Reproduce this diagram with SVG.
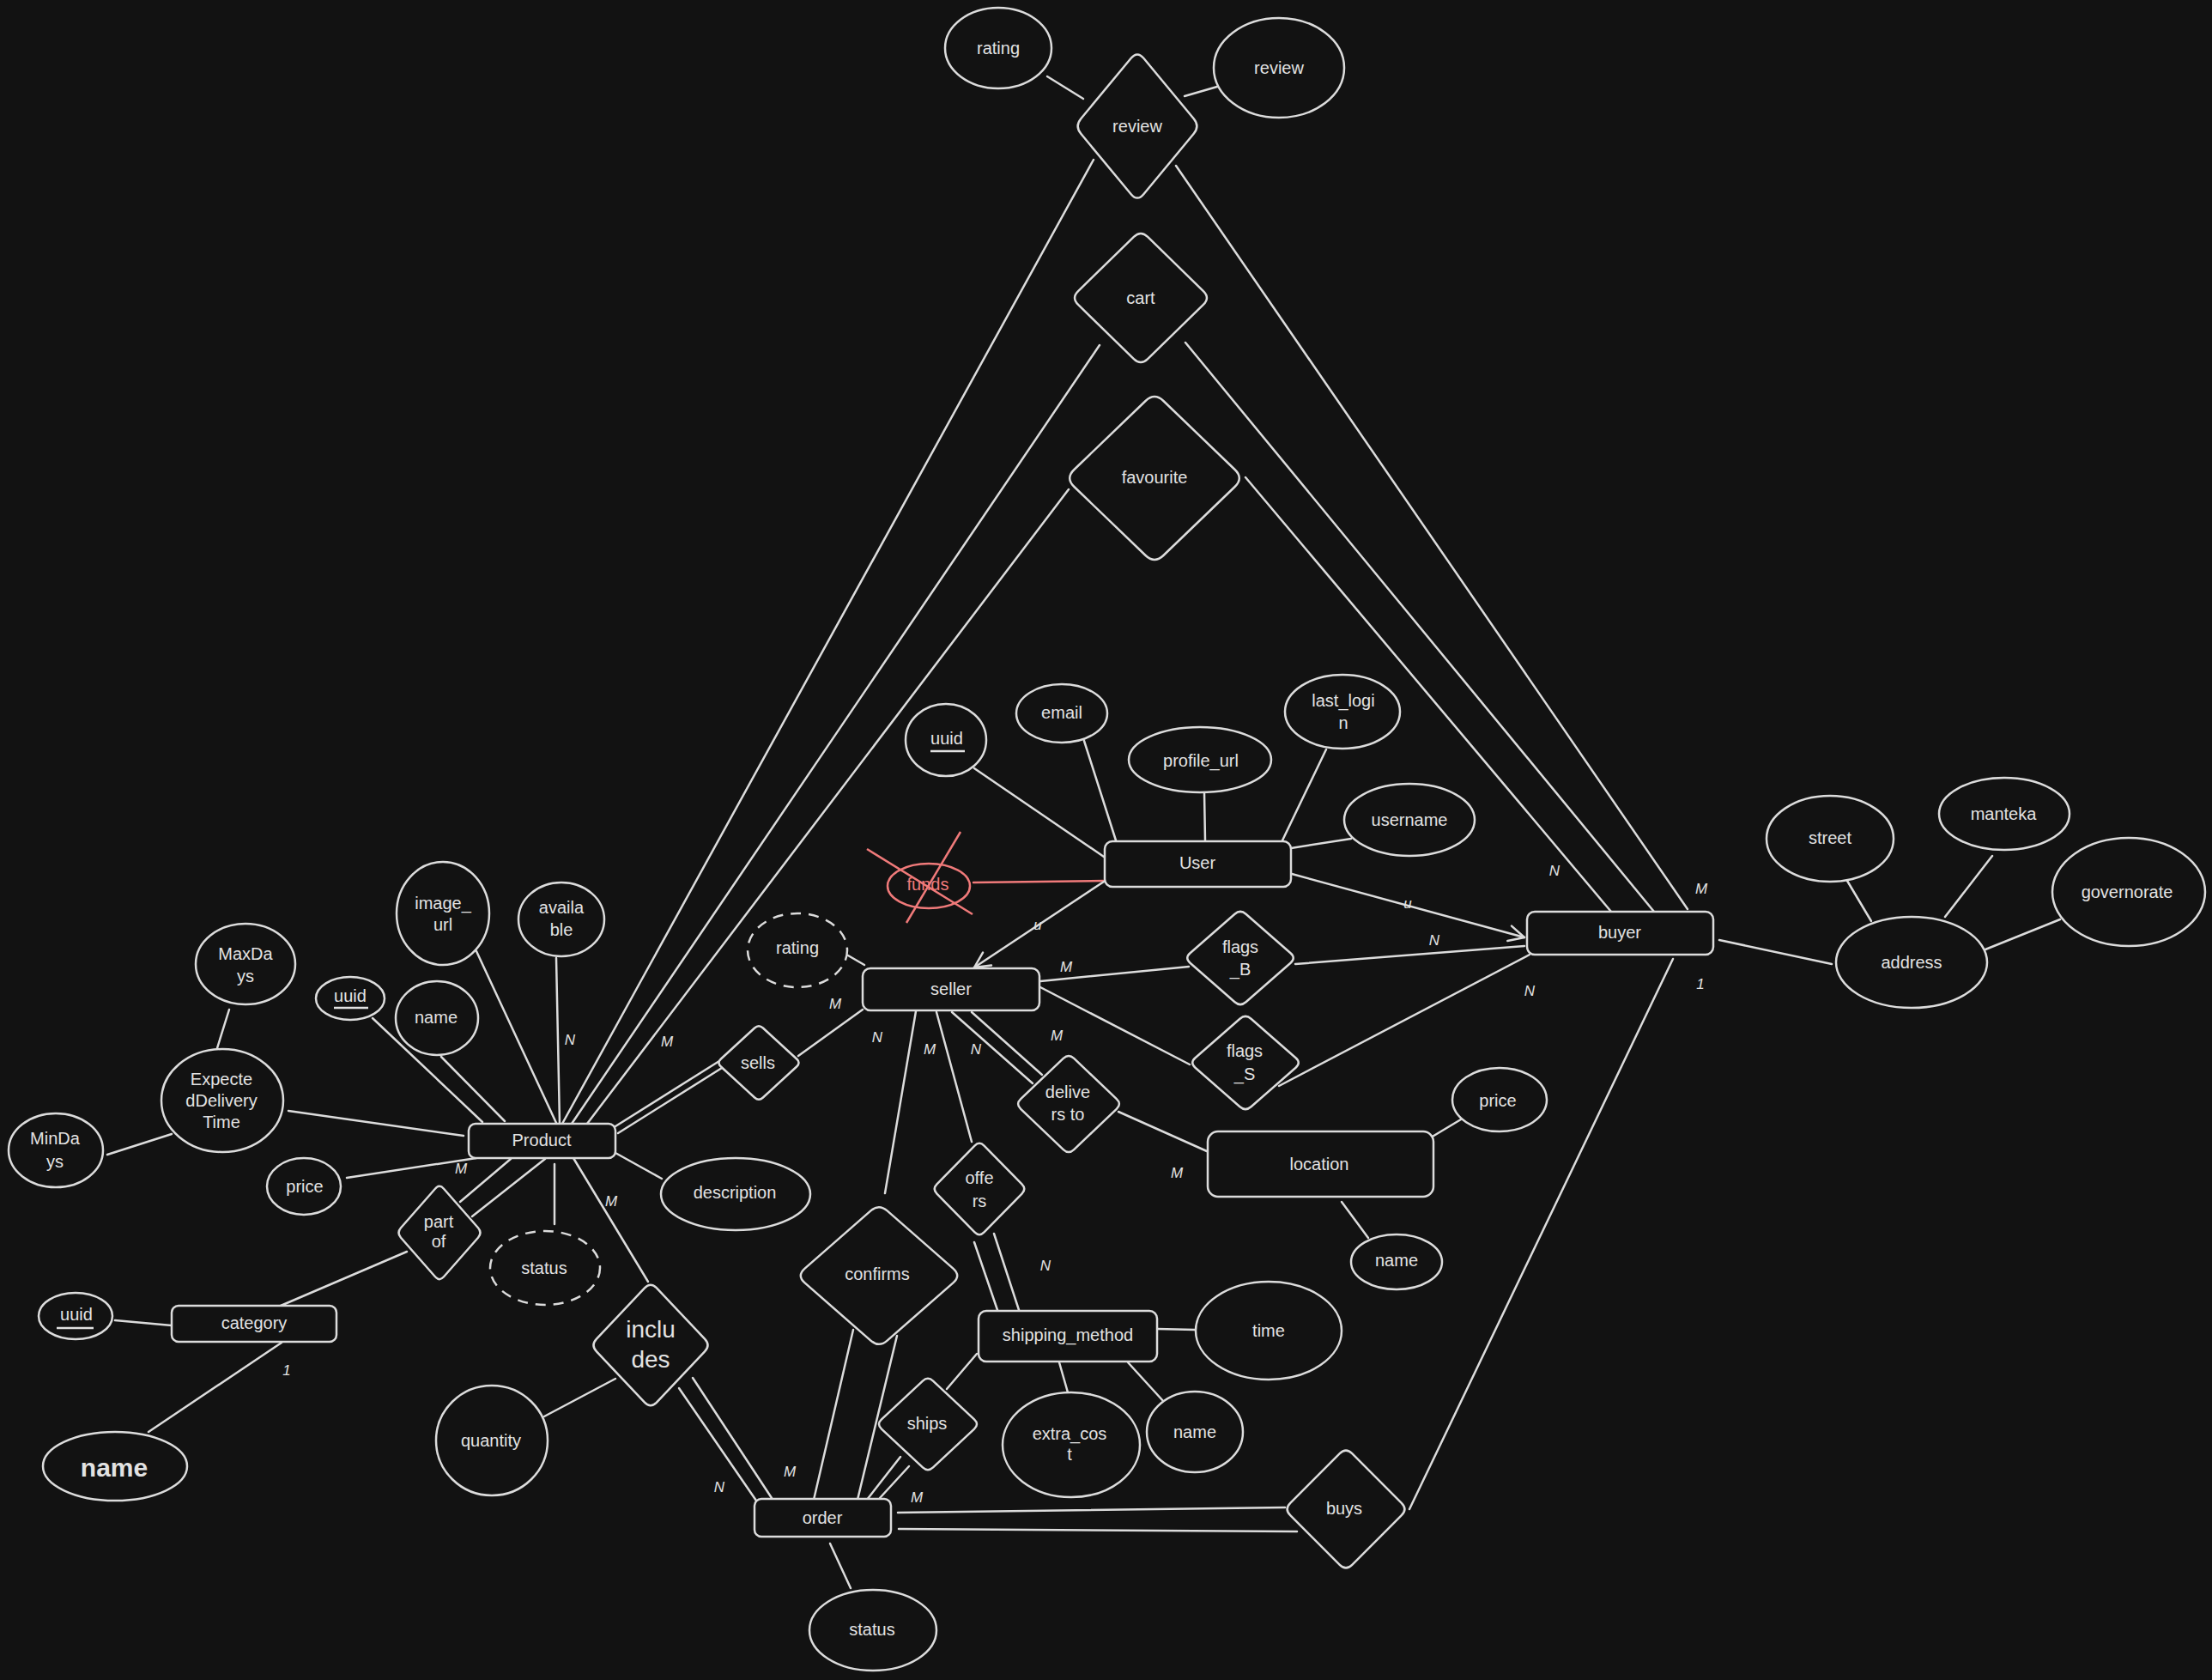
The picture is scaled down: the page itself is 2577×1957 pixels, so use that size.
<svg xmlns="http://www.w3.org/2000/svg" width="2577" height="1957" viewBox="0 0 2577 1957">
<defs>
<style>
.n ellipse, .n rect, .sh {fill:#121212; stroke:#dcdcdc; stroke-width:2.5;}
.dash {stroke-dasharray:12 9;}
text {font-family:"Liberation Sans", Arial, sans-serif; font-size:20px; fill:#e2e2e2; text-anchor:middle; dominant-baseline:central;}
.lab {font-size:17px; font-style:italic;}
.big {font-size:28px;}
.huge {font-size:30px; font-weight:bold;}
#connectors line {stroke:#dcdcdc; stroke-width:2.5; fill:none; stroke-linecap:round;}
#connectors line.red, .redx line {stroke:#f07a7a; stroke-width:2.5;}
.ul {stroke:#e2e2e2; stroke-width:2.5;}
</style>
<path id="dia" d="M0.1,-0.9 L0.9,-0.1 Q1,0 0.9,0.1 L0.1,0.9 Q0,1 -0.1,0.9 L-0.9,0.1 Q-1,0 -0.9,-0.1 L-0.1,-0.9 Q0,-1 0.1,-0.9 Z" vector-effect="non-scaling-stroke"/>
<marker id="arr" viewBox="0 0 24 24" refX="21" refY="12" markerWidth="24" markerHeight="24" markerUnits="userSpaceOnUse" orient="auto"><path d="M3,3 L21,12 L3,21" fill="none" stroke="#dcdcdc" stroke-width="2.5" stroke-linecap="round" stroke-linejoin="round"/></marker>
</defs>
<rect width="2577" height="1957" fill="#121212"/>

<g id="connectors">
<line x1="1220" y1="89" x2="1262" y2="115"/>
<line x1="1380" y1="112" x2="1418" y2="101"/>
<line x1="1274" y1="186" x2="655" y2="1309"/>
<line x1="1370" y1="193" x2="1966" y2="1059"/>
<line x1="1281" y1="402" x2="666" y2="1309"/>
<line x1="1381" y1="399" x2="1927" y2="1062"/>
<line x1="1245" y1="570" x2="684" y2="1309"/>
<line x1="1451" y1="556" x2="1877" y2="1062"/>
<line x1="1135" y1="895" x2="1286" y2="998"/>
<line x1="1263" y1="863" x2="1300" y2="979"/>
<line x1="1403" y1="923" x2="1404" y2="979"/>
<line x1="1545" y1="873" x2="1494" y2="979"/>
<line x1="1574" y1="977" x2="1504" y2="988"/>
<line class="red" x1="1134" y1="1028" x2="1286" y2="1026"/>
<line x1="1286" y1="1027" x2="1135" y2="1127" marker-end="url(#arr)"/>
<line x1="1505" y1="1018" x2="1776" y2="1092" marker-end="url(#arr)"/>
<line x1="1212" y1="1143" x2="1385" y2="1126"/>
<line x1="1509" y1="1123" x2="1776" y2="1102"/>
<line x1="1212" y1="1150" x2="1386" y2="1240"/>
<line x1="1490" y1="1265" x2="1782" y2="1112"/>
<line x1="988" y1="1113" x2="1007" y2="1124"/>
<line x1="930" y1="1230" x2="1005" y2="1176"/>
<line x1="838" y1="1236" x2="717" y2="1312"/>
<line x1="841" y1="1244" x2="720" y2="1320"/>
<line x1="1067" y1="1178" x2="1031" y2="1390"/>
<line x1="1091" y1="1179" x2="1132" y2="1330"/>
<line x1="1109" y1="1179" x2="1203" y2="1262"/>
<line x1="1132" y1="1179" x2="1214" y2="1252"/>
<line x1="1303" y1="1295" x2="1406" y2="1341"/>
<line x1="1667" y1="1325" x2="1702" y2="1304"/>
<line x1="1563" y1="1400" x2="1594" y2="1442"/>
<line x1="1135" y1="1447" x2="1162" y2="1526"/>
<line x1="1158" y1="1437" x2="1187" y2="1526"/>
<line x1="1348" y1="1548" x2="1392" y2="1549"/>
<line x1="1234" y1="1587" x2="1244" y2="1622"/>
<line x1="1314" y1="1587" x2="1356" y2="1633"/>
<line x1="1103" y1="1618" x2="1138" y2="1577"/>
<line x1="1049" y1="1697" x2="1010" y2="1747"/>
<line x1="1059" y1="1708" x2="1025" y2="1745"/>
<line x1="994" y1="1549" x2="948" y2="1747"/>
<line x1="1045" y1="1556" x2="999" y2="1747"/>
<line x1="791" y1="1617" x2="881" y2="1748"/>
<line x1="807" y1="1605" x2="899" y2="1745"/>
<line x1="1046" y1="1762" x2="1497" y2="1756"/>
<line x1="1047" y1="1781" x2="1511" y2="1784"/>
<line x1="967" y1="1798" x2="991" y2="1850"/>
<line x1="1949" y1="1117" x2="1642" y2="1758"/>
<line x1="2003" y1="1095" x2="2134" y2="1123"/>
<line x1="2152" y1="1026" x2="2180" y2="1073"/>
<line x1="2321" y1="997" x2="2266" y2="1068"/>
<line x1="2400" y1="1071" x2="2313" y2="1106"/>
<line x1="267" y1="1176" x2="253" y2="1221"/>
<line x1="125" y1="1345" x2="200" y2="1321"/>
<line x1="336" y1="1294" x2="540" y2="1323"/>
<line x1="434" y1="1186" x2="562" y2="1307"/>
<line x1="514" y1="1231" x2="588" y2="1306"/>
<line x1="555" y1="1108" x2="648" y2="1308"/>
<line x1="648" y1="1116" x2="652" y2="1308"/>
<line x1="404" y1="1372" x2="555" y2="1349"/>
<line x1="717" y1="1343" x2="771" y2="1373"/>
<line x1="646" y1="1356" x2="646" y2="1426"/>
<line x1="595" y1="1350" x2="536" y2="1400"/>
<line x1="635" y1="1350" x2="550" y2="1417"/>
<line x1="474" y1="1458" x2="327" y2="1521"/>
<line x1="668" y1="1349" x2="755" y2="1493"/>
<line x1="717" y1="1606" x2="634" y2="1650"/>
<line x1="134" y1="1538" x2="200" y2="1544"/>
<line x1="328" y1="1564" x2="173" y2="1668"/>
<g class="lab-g">
<text class="lab" x="1811" y="1014">N</text>
<text class="lab" x="1982" y="1035">M</text>
<text class="lab" x="1640" y="1052">u</text>
<text class="lab" x="1671" y="1095">N</text>
<text class="lab" x="1782" y="1154">N</text>
<text class="lab" x="1981" y="1146">1</text>
<text class="lab" x="1209" y="1077">u</text>
<text class="lab" x="1242" y="1126">M</text>
<text class="lab" x="973" y="1169">M</text>
<text class="lab" x="1022" y="1208">N</text>
<text class="lab" x="1083" y="1222">M</text>
<text class="lab" x="1137" y="1222">N</text>
<text class="lab" x="1231" y="1206">M</text>
<text class="lab" x="1371" y="1366">M</text>
<text class="lab" x="1218" y="1474">N</text>
<text class="lab" x="777" y="1213">M</text>
<text class="lab" x="664" y="1211">N</text>
<text class="lab" x="537" y="1361">M</text>
<text class="lab" x="712" y="1399">M</text>
<text class="lab" x="334" y="1596">1</text>
<text class="lab" x="838" y="1732">N</text>
<text class="lab" x="920" y="1714">M</text>
<text class="lab" x="1068" y="1744">M</text>
</g>
</g>

<g id="review" class="n"><use href="#dia" class="sh" transform="translate(1325,147) scale(73,88)"/><text x="1325" y="147">review</text></g>
<g id="review-rating" class="n"><ellipse cx="1163" cy="56" rx="62" ry="47"/><text x="1163" y="56">rating</text></g>
<g id="review-text" class="n"><ellipse cx="1490" cy="79" rx="76" ry="58"/><text x="1490" y="79">review</text></g>
<g id="cart" class="n"><use href="#dia" class="sh" transform="translate(1329,347) scale(81,79)"/><text x="1329" y="347">cart</text></g>
<g id="favourite" class="n"><use href="#dia" class="sh" transform="translate(1345,557) scale(104,100)"/><text x="1345" y="556">favourite</text></g>

<g id="user" class="n"><rect x="1287" y="980" width="217" height="53" rx="9"/><text x="1395" y="1005">User</text></g>
<g id="user-uuid" class="n"><ellipse cx="1102" cy="862" rx="47" ry="42"/><text x="1103" y="860">uuid</text><line class="ul" x1="1084" y1="875" x2="1124" y2="875"/></g>
<g id="user-email" class="n"><ellipse cx="1237" cy="831" rx="53" ry="34"/><text x="1237" y="830">email</text></g>
<g id="user-profile" class="n"><ellipse cx="1398" cy="885" rx="83" ry="38"/><text x="1399" y="886">profile_url</text></g>
<g id="user-lastlogin" class="n"><ellipse cx="1564" cy="829" rx="67" ry="43"/><text x="1565" y="816">last_logi</text><text x="1565" y="842">n</text></g>
<g id="user-username" class="n"><ellipse cx="1642" cy="955" rx="76" ry="42"/><text x="1642" y="955">username</text></g>
<g id="user-funds" class="n"><ellipse cx="1082" cy="1032" rx="48" ry="26" style="stroke:#f07a7a"/><text x="1081" y="1030" style="fill:#f07a7a">funds</text>
<g class="redx"><line x1="1010" y1="989" x2="1133" y2="1065"/><line x1="1119" y1="969" x2="1056" y2="1075"/></g></g>

<g id="seller" class="n"><rect x="1005" y="1128" width="206" height="49" rx="9"/><text x="1108" y="1152">seller</text></g>
<g id="seller-rating" class="n"><ellipse class="dash" cx="929" cy="1107" rx="58" ry="43"/><text x="929" y="1104">rating</text></g>
<g id="buyer" class="n"><rect x="1779" y="1062" width="217" height="50" rx="9"/><text x="1887" y="1086">buyer</text></g>
<g id="flags-b" class="n"><use href="#dia" class="sh" transform="translate(1445,1116) scale(65,57)"/><text x="1445" y="1103">flags</text><text x="1445" y="1129">_B</text></g>
<g id="flags-s" class="n"><use href="#dia" class="sh" transform="translate(1451,1238) scale(65,57)"/><text x="1450" y="1224">flags</text><text x="1450" y="1251">_S</text></g>

<g id="address" class="n"><ellipse cx="2227" cy="1121" rx="88" ry="53"/><text x="2227" y="1121">address</text></g>
<g id="street" class="n"><ellipse cx="2132" cy="977" rx="74" ry="50"/><text x="2132" y="976">street</text></g>
<g id="manteka" class="n"><ellipse cx="2335" cy="948" rx="76" ry="42"/><text x="2334" y="948">manteka</text></g>
<g id="governorate" class="n"><ellipse cx="2480" cy="1039" rx="89" ry="63"/><text x="2478" y="1039">governorate</text></g>

<g id="product" class="n"><rect x="546" y="1309" width="171" height="40" rx="8"/><text x="631" y="1328">Product</text></g>
<g id="product-maxdays" class="n"><ellipse cx="286" cy="1123" rx="58" ry="47"/><text x="286" y="1111">MaxDa</text><text x="286" y="1137">ys</text></g>
<g id="product-edt" class="n"><ellipse cx="259" cy="1282" rx="71" ry="60"/><text x="258" y="1257">Expecte</text><text x="258" y="1282">dDelivery</text><text x="258" y="1307">Time</text></g>
<g id="product-mindays" class="n"><ellipse cx="65" cy="1340" rx="55" ry="43"/><text x="64" y="1326">MinDa</text><text x="64" y="1353">ys</text></g>
<g id="product-uuid" class="n"><ellipse cx="408" cy="1163" rx="40" ry="25"/><text x="408" y="1160">uuid</text><line class="ul" x1="389" y1="1174" x2="429" y2="1174"/></g>
<g id="product-name" class="n"><ellipse cx="509" cy="1186" rx="48" ry="43"/><text x="508" y="1185">name</text></g>
<g id="product-image" class="n"><ellipse cx="516" cy="1064" rx="54" ry="60"/><text x="516" y="1052">image_</text><text x="516" y="1077">url</text></g>
<g id="product-available" class="n"><ellipse cx="654" cy="1071" rx="50" ry="43"/><text x="654" y="1057">availa</text><text x="654" y="1083">ble</text></g>
<g id="product-price" class="n"><ellipse cx="354" cy="1382" rx="43" ry="33"/><text x="355" y="1382">price</text></g>
<g id="product-description" class="n"><ellipse cx="857" cy="1391" rx="87" ry="42"/><text x="856" y="1389">description</text></g>
<g id="product-status" class="n"><ellipse class="dash" cx="635" cy="1477" rx="64" ry="43"/><text x="634" y="1477">status</text></g>
<g id="sells" class="n"><use href="#dia" class="sh" transform="translate(884,1238) scale(49,45)"/><text x="883" y="1238">sells</text></g>
<g id="part-of" class="n"><use href="#dia" class="sh" transform="translate(512,1436) scale(50,57)"/><text x="511" y="1423">part</text><text x="511" y="1446">of</text></g>

<g id="category" class="n"><rect x="200" y="1521" width="192" height="42" rx="8"/><text x="296" y="1541">category</text></g>
<g id="category-uuid" class="n"><ellipse cx="88" cy="1533" rx="43" ry="27"/><text x="89" y="1531">uuid</text><line class="ul" x1="66" y1="1547" x2="109" y2="1547"/></g>
<g id="category-name" class="n"><ellipse cx="134" cy="1708" rx="84" ry="40"/><text class="huge" x="133" y="1709">name</text></g>

<g id="includes" class="n"><use href="#dia" class="sh" transform="translate(758,1567) scale(70,74)"/><text class="big" x="758" y="1548">inclu</text><text class="big" x="758" y="1583">des</text></g>
<g id="includes-quantity" class="n"><ellipse cx="573" cy="1678" rx="65" ry="64"/><text x="572" y="1678">quantity</text></g>

<g id="confirms" class="n"><use href="#dia" class="sh" transform="translate(1024,1486) scale(96,84)"/><text x="1022" y="1484">confirms</text></g>
<g id="offers" class="n"><use href="#dia" class="sh" transform="translate(1141,1385) scale(55,56)"/><text x="1141" y="1372">offe</text><text x="1141" y="1399">rs</text></g>
<g id="delivers-to" class="n"><use href="#dia" class="sh" transform="translate(1245,1286) scale(62,59)"/><text x="1244" y="1272">delive</text><text x="1244" y="1298">rs to</text></g>
<g id="location" class="n"><rect x="1407" y="1318" width="263" height="76" rx="12"/><text x="1537" y="1356">location</text></g>
<g id="location-price" class="n"><ellipse cx="1747" cy="1281" rx="55" ry="37"/><text x="1745" y="1282">price</text></g>
<g id="location-name" class="n"><ellipse cx="1627" cy="1470" rx="53" ry="32"/><text x="1627" y="1468">name</text></g>

<g id="shipping-method" class="n"><rect x="1140" y="1527" width="208" height="59" rx="9"/><text x="1244" y="1555">shipping_method</text></g>
<g id="shipping-time" class="n"><ellipse cx="1478" cy="1550" rx="85" ry="57"/><text x="1478" y="1550">time</text></g>
<g id="shipping-extra" class="n"><ellipse cx="1248" cy="1683" rx="80" ry="61"/><text x="1246" y="1670">extra_cos</text><text x="1246" y="1694">t</text></g>
<g id="shipping-name" class="n"><ellipse cx="1392" cy="1668" rx="56" ry="47"/><text x="1392" y="1668">name</text></g>
<g id="ships" class="n"><use href="#dia" class="sh" transform="translate(1081,1659) scale(60,56)"/><text x="1080" y="1658">ships</text></g>

<g id="order" class="n"><rect x="879" y="1746" width="159" height="44" rx="8"/><text x="958" y="1768">order</text></g>
<g id="order-status" class="n"><ellipse cx="1017" cy="1899" rx="74" ry="47"/><text x="1016" y="1898">status</text></g>
<g id="buys" class="n"><use href="#dia" class="sh" transform="translate(1568,1758) scale(72,72)"/><text x="1566" y="1757">buys</text></g>
</svg>
